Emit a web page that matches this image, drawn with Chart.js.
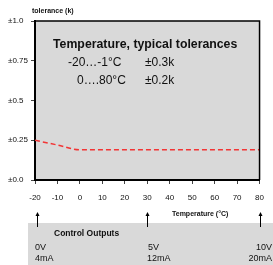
<!DOCTYPE html>
<html>
<head>
<meta charset="utf-8">
<script src="https://cdn.jsdelivr.net/npm/chart.js@4"></script>
<style>
  body { margin: 0; background: #fff; }
  #wrap { position: relative; width: 273px; height: 265px; overflow: hidden; font-family: Arial, "Liberation Sans", sans-serif; color: #111; }
  #band { position: absolute; left: 28px; top: 223px; width: 245px; height: 42px; background: #d9d9d9; }
  canvas { position: absolute; left: 0; top: 0; }
  .t { position: absolute; line-height: 1; white-space: nowrap; }
</style>
</head>
<body>
<div id="wrap">
  <div id="band"></div>
  <canvas id="tolChart" width="273" height="265"></canvas>
  <div class="t" style="left:32px;top:7px;font-size:7px;font-weight:bold">tolerance (k)</div>
  <div class="t" style="left:53px;top:38px;font-size:12.3px;font-weight:bold">Temperature, typical tolerances</div>
  <div class="t" style="left:68px;top:56px;font-size:12px">-20…-1°C</div>
  <div class="t" style="left:145px;top:56px;font-size:12px">±0.3k</div>
  <div class="t" style="left:77px;top:74px;font-size:12px">0….80°C</div>
  <div class="t" style="left:145px;top:74px;font-size:12px">±0.2k</div>
  <div class="t" style="left:172px;top:210px;font-size:7px;font-weight:bold">Temperature (°C)</div>
  <div class="t" style="left:54px;top:229px;font-size:8.5px;font-weight:bold">Control Outputs</div>
  <div class="t" style="left:35px;top:243px;font-size:9px">0V</div>
  <div class="t" style="left:35px;top:254px;font-size:9px">4mA</div>
  <div class="t" style="left:148px;top:243px;font-size:9px">5V</div>
  <div class="t" style="left:147px;top:254px;font-size:9px">12mA</div>
  <div class="t" style="right:1px;top:243px;font-size:9px">10V</div>
  <div class="t" style="right:1px;top:254px;font-size:9px">20mA</div>
</div>
<script>
// Data
const temps = [-20, -10, 0, 10, 20, 30, 40, 50, 60, 70, 80];
const tolerance = [0.25, 0.22, 0.19, 0.19, 0.19, 0.19, 0.19, 0.19, 0.19, 0.19, 0.19];
const yTicks = [0, 0.25, 0.5, 0.75, 1.0];
const yTickLabels = ['±0.0', '±0.25', '±0.5', '±0.75', '±1.0'];
const outputTemps = [-20, 30, 80]; // arrows to control outputs

// gray plot box with top/right border, plus arrows below the axis
const boxPlugin = {
    id: 'box',
    beforeDraw(chart) {
        const { ctx, chartArea: a } = chart;
        ctx.save();
        ctx.fillStyle = '#d9d9d9';
        ctx.fillRect(a.left, a.top, a.right - a.left, a.bottom - a.top);
        ctx.restore();
    },
    afterDraw(chart) {
        const { ctx, chartArea: a } = chart;
        ctx.save();
        ctx.strokeStyle = '#000';
        ctx.lineWidth = 1.5;
        ctx.beginPath();
        ctx.moveTo(a.left, a.top);
        ctx.lineTo(a.right, a.top);
        ctx.lineTo(a.right, a.bottom);
        ctx.stroke();

        // arrows
        ctx.lineWidth = 1;
        ctx.fillStyle = '#000';
        outputTemps.forEach(function(t) {
            let x = Math.round(chart.scales.x.getPixelForValue(t)) + 0.5;
            if (t === temps[0]) x += 2; // first arrow sits just right of the axis
            ctx.beginPath();
            ctx.moveTo(x, 227);
            ctx.lineTo(x, 215);
            ctx.stroke();
            ctx.beginPath();
            ctx.moveTo(x - 2, 216);
            ctx.lineTo(x + 2, 216);
            ctx.lineTo(x, 212);
            ctx.closePath();
            ctx.fill();
        });
        ctx.restore();
    }
};

const ctx = document.getElementById('tolChart').getContext('2d');
const tolChart = new Chart(ctx, {
    type: 'line',
    data: {
        datasets: [{
            label: 'tolerance',
            data: temps.map((t, i) => ({ x: t, y: tolerance[i] })),
            borderColor: '#f23535',
            borderWidth: 1.5,
            borderDash: [5, 3],
            pointRadius: 0,
            cubicInterpolationMode: 'monotone',
            fill: false,
        }],
    },
    options: {
        responsive: false,
        animation: false,
        layout: { padding: { left: 8, top: 21, right: 9, bottom: 0 } },
        plugins: {
            legend: { display: false },
            tooltip: { enabled: false },
        },
        scales: {
            x: {
                type: 'linear',
                min: -20,
                max: 80,
                afterFit: function(scale) { scale.height = 85; },
                border: { color: '#000', width: 2 },
                grid: { drawOnChartArea: false, tickLength: 4, color: '#444' },
                ticks: {
                    stepSize: 10,
                    padding: 9,
                    color: '#111',
                    font: { family: 'Arial', size: 8 },
                    maxRotation: 0,
                },
            },
            y: {
                type: 'linear',
                min: 0,
                max: 1,
                afterFit: function(scale) { scale.width = 27; },
                afterBuildTicks: function(scale) {
                    scale.ticks = yTicks.map(v => ({ value: v }));
                },
                border: { color: '#000', width: 2 },
                grid: { drawOnChartArea: false, tickLength: 4, color: '#444' },
                ticks: {
                    crossAlign: 'far',
                    color: '#111',
                    font: { family: 'Arial', size: 8 },
                    callback: function(v) { return yTickLabels[yTicks.indexOf(v)]; },
                },
            },
        },
    },
    plugins: [boxPlugin],
});
</script>
</body>
</html>
